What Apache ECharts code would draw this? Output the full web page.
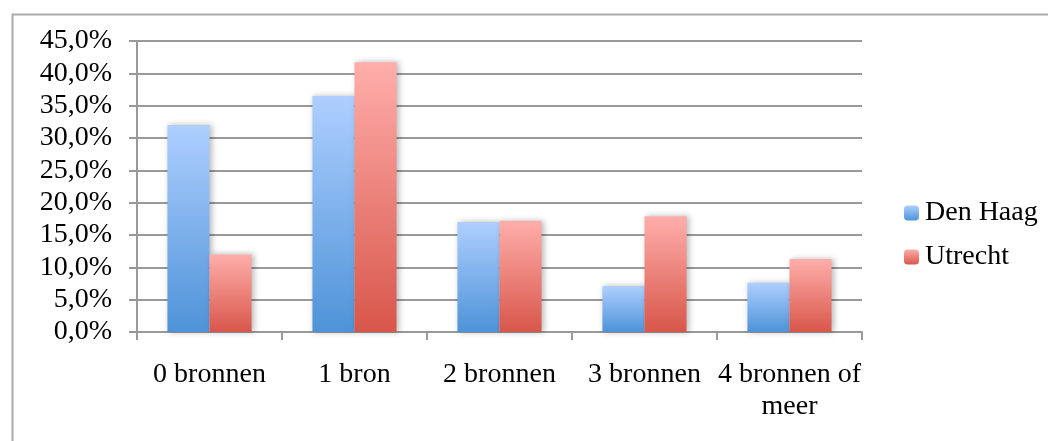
<!DOCTYPE html>
<html>
<head>
<meta charset="utf-8">
<script src="https://cdn.jsdelivr.net/npm/echarts@6/dist/echarts.min.js"></script>
<style>html,body{margin:0;padding:0;background:#fff}#c{width:1048px;height:441px}</style>
</head>
<body>
<div id="c"></div>
<script>
const categories = ['0 bronnen', '1 bron', '2 bronnen', '3 bronnen', '4 bronnen of\nmeer'];
const denHaag = [32.0, 36.5, 17.0, 7.1, 7.6];
const utrecht = [12.0, 41.7, 17.2, 17.9, 11.3];
const seriesNames = ['Den Haag', 'Utrecht'];

const FONT = 'Liberation Serif';
const FS = 28;
const chart = echarts.init(document.getElementById('c'), null, {renderer: 'canvas'});
function grad(top, bottom) {
  return new echarts.graphic.LinearGradient(0, 0, 0, 1, [
    {offset: 0, color: top}, {offset: 1, color: bottom}
  ]);
}
const shadow = {shadowBlur: 6, shadowColor: 'rgba(0,0,0,0.28)', shadowOffsetX: 2, shadowOffsetY: 0};
chart.setOption({
  animation: false,
  backgroundColor: '#fff',
  textStyle: {fontFamily: FONT},
  graphic: [{
    type: 'rect', left: 10, top: 12,
    shape: {width: 1100, height: 500},
    style: {fill: 'none', stroke: '#aaa', lineWidth: 2}
  }],
  grid: {left: 137, right: 186, top: 41, bottom: 109, containLabel: false},
  legend: {
    orient: 'vertical', left: 899, top: 192, itemWidth: 15, itemHeight: 15, itemGap: 12,
    textStyle: {fontFamily: FONT, fontSize: FS, lineHeight: 32, color: '#000', padding: [0, 0, 0, 1]},
    data: seriesNames
  },
  xAxis: {
    type: 'category', data: categories,
    axisLine: {lineStyle: {color: '#999', width: 2}},
    axisTick: {show: true, length: 8, lineStyle: {color: '#999', width: 2}},
    axisLabel: {fontFamily: FONT, fontSize: FS, color: '#000', margin: 27, lineHeight: 32, interval: 0}
  },
  yAxis: {
    type: 'value', min: 0, max: 45, interval: 5,
    axisLine: {show: true, lineStyle: {color: '#999', width: 2}},
    axisTick: {show: true, length: 8, lineStyle: {color: '#999', width: 2}},
    splitLine: {lineStyle: {color: '#999', width: 2}},
    axisLabel: {fontFamily: FONT, fontSize: FS, color: '#000', margin: 25,
      formatter: v => v.toFixed(1).replace('.', ',') + '%'}
  },
  series: [
    {name: seriesNames[0], type: 'bar', data: denHaag, barGap: '0%', barCategoryGap: '42%',
      itemStyle: Object.assign({color: grad('#aecfff', '#4e93d8')}, shadow)},
    {name: seriesNames[1], type: 'bar', data: utrecht, barGap: '0%', barCategoryGap: '42%',
      itemStyle: Object.assign({color: grad('#ffaeab', '#d8564a')}, shadow)}
  ]
});
</script>
</body>
</html>
